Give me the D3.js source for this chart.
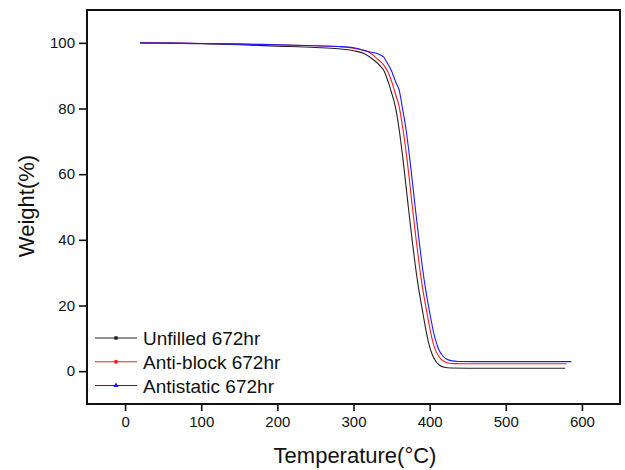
<!DOCTYPE html>
<html>
<head>
<meta charset="utf-8">
<script src="https://cdn.jsdelivr.net/npm/d3@7"></script>
<style>
  html, body { margin: 0; padding: 0; background: #fff; }
  svg { display: block; font-family: "Liberation Sans", Arial, sans-serif; }
</style>
</head>
<body>
<svg id="chart" width="625" height="470"></svg>
<script>
// ---- data ----
const seriesNames = ["Unfilled 672hr", "Anti-block 672hr", "Antistatic 672hr"];
const seriesColors = ["#222222", "#ff1a1a", "#1a1aff"];

const unfilledT = [20, 60, 100, 150, 200, 250, 280, 300, 315, 327, 335, 340, 346, 350, 355, 360, 365, 372, 377, 381, 385, 389, 393, 396, 399, 403, 408, 413, 419, 428, 450, 500, 578];
const unfilledW = [100, 99.9, 99.7, 99.4, 99.0, 98.6, 98.2, 97.6, 96.6, 94.7, 93.0, 91.5, 87.8, 84.8, 80.5, 73.6, 64.5, 50, 40, 32.5, 26, 20.5, 15.2, 11.5, 8.3, 5.3, 3.0, 1.8, 1.2, 0.95, 0.9, 0.9, 0.9];

const antiblockT = [20, 60, 100, 150, 200, 250, 280, 300, 320, 331, 338, 344, 351, 355, 360, 365, 370.3, 377.3, 382.3, 386.3, 390.3, 394.3, 398.3, 401.3, 404.3, 408.3, 413.3, 418.3, 424.3, 433, 450, 500, 580];
const antiblockW = [100, 99.9, 99.8, 99.7, 99.4, 99.1, 98.9, 98.4, 97.2, 95.2, 93.7, 91.7, 87.6, 84.5, 80.5, 73.6, 64.5, 50, 40, 32.5, 26, 20.5, 15.5, 11.8, 8.8, 6.1, 4.1, 3.0, 2.5, 2.3, 2.25, 2.25, 2.25];

const antistaticT = [20, 60, 100, 150, 200, 250, 280, 300, 320, 330, 336, 340, 343, 346, 350, 353, 356, 360, 364, 369, 374, 381, 386, 390, 394, 398, 402, 405, 408, 412, 417, 422, 428, 438, 460, 500, 586];
const antistaticW = [100, 99.9, 99.8, 99.6, 99.4, 99.1, 98.9, 98.5, 97.3, 96.8, 96.2, 95.6, 94.4, 93.2, 91.4, 89.6, 87.8, 85.6, 80.5, 73.6, 64.5, 50, 40, 32.5, 26, 20.5, 15.5, 12, 9.3, 6.6, 4.7, 3.7, 3.2, 2.95, 2.9, 2.9, 2.9];

const xTicks = [0, 100, 200, 300, 400, 500, 600];
const yTicks = [0, 20, 40, 60, 80, 100];

const series = [
  { name: seriesNames[0], color: seriesColors[0], T: unfilledT, W: unfilledW, marker: "square" },
  { name: seriesNames[1], color: seriesColors[1], T: antiblockT, W: antiblockW, marker: "circle" },
  { name: seriesNames[2], color: seriesColors[2], T: antistaticT, W: antistaticW, marker: "triangle" }
];

// ---- layout ----
const svg = d3.select("#chart");
const L = 87, R = 620, T = 10, B = 404;

const x = d3.scaleLinear().domain([-50, 650]).range([L, R]);
const y = d3.scaleLinear().domain([-10, 110]).range([B, T]);

// axes
const xAxis = d3.axisBottom(x).tickValues(xTicks).tickSize(7).tickPadding(5).tickFormat(d3.format("d"));
const yAxis = d3.axisLeft(y).tickValues(yTicks).tickSize(8).tickPadding(4).tickFormat(d3.format("d"));

const gx = svg.append("g").attr("transform", `translate(0,${B})`).call(xAxis);
const gy = svg.append("g").attr("transform", `translate(${L},0)`).call(yAxis);
[gx, gy].forEach(g => {
  g.select(".domain").remove();
  g.selectAll(".tick line").attr("stroke", "#111").attr("stroke-width", 1.6);
  g.selectAll(".tick text").attr("fill", "#111").style("font-size", "15px");
});

// lines
const line = d3.line().x(d => x(d[0])).y(d => y(d[1])).curve(d3.curveMonotoneX);
svg.append("clipPath").attr("id", "clip").append("rect")
  .attr("x", L).attr("y", T).attr("width", R - L).attr("height", B - T);
const plot = svg.append("g").attr("clip-path", "url(#clip)");
series.forEach(s => {
  const pts = s.T.map((t, i) => [t, s.W[i]]);
  plot.append("path").datum(pts)
    .attr("fill", "none")
    .attr("stroke", s.color)
    .attr("stroke-width", 1.1)
    .attr("d", line);
});

// frame
svg.append("rect").attr("x", L).attr("y", T).attr("width", R - L).attr("height", B - T)
  .attr("fill", "none").attr("stroke", "#111").attr("stroke-width", 2);

// legend
const legY = [338, 361.7, 385.5];
const lg = svg.append("g");
series.forEach((s, i) => {
  const g = lg.append("g").attr("transform", `translate(0,${legY[i]})`);
  g.append("line").attr("x1", 95).attr("x2", 137).attr("y1", 0).attr("y2", 0)
    .attr("stroke", s.color).attr("stroke-width", 1.1);
  const sym = s.marker === "square" ? d3.symbolSquare : s.marker === "circle" ? d3.symbolCircle : d3.symbolTriangle;
  g.append("path").attr("d", d3.symbol().type(sym).size(12)).attr("transform", "translate(116,0)")
    .attr("fill", s.color);
  g.append("text").attr("x", 143).attr("y", 7).attr("fill", "#111")
    .style("font-size", "19px").text(s.name);
});

// axis titles
svg.append("text").attr("x", 355).attr("y", 463).attr("text-anchor", "middle")
  .attr("fill", "#111").style("font-size", "22px").text("Temperature(°C)");
svg.append("text").attr("transform", "translate(34,206) rotate(-90)").attr("text-anchor", "middle")
  .attr("fill", "#111").style("font-size", "22px").text("Weight(%)");
</script>
</body>
</html>
